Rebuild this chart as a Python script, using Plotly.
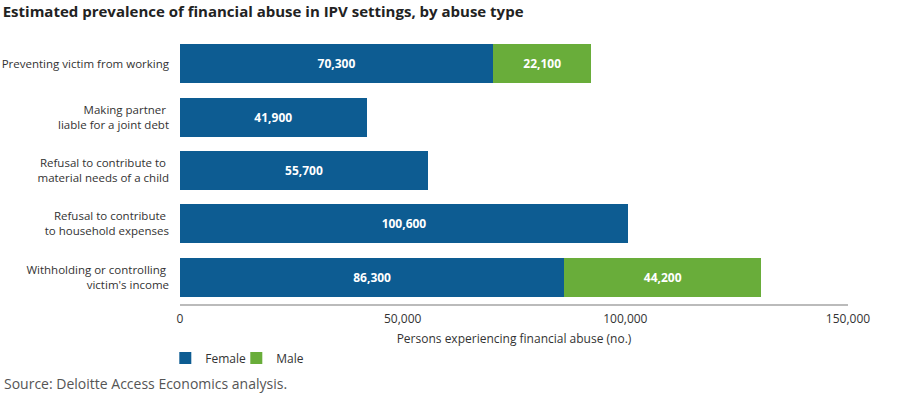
import plotly.graph_objects as go

categories = [
    "Preventing victim from working",
    "Making partner <br>liable for a joint debt",
    "Refusal to contribute to <br>material needs of a child",
    "Refusal to contribute <br>to household expenses",
    "Withholding or controlling <br>victim's income",
]
female = [70300, 41900, 55700, 100600, 86300]
male = [22100, None, None, None, 44200]
x_ticks = [0, 50000, 100000, 150000]
x_tick_labels = ["0", "50,000", "100,000", "150,000"]

FEMALE_C = "#0D5C92"
MALE_C = "#69AD3A"
FONT = "Open Sans"

fig = go.Figure()
fig.add_trace(go.Bar(
    y=categories, x=female, orientation="h", name="Female",
    marker=dict(color=FEMALE_C, line=dict(width=0)),
    texttemplate="%{x:,}", textposition="inside", insidetextanchor="middle",
    textfont=dict(color="white", size=12, family=FONT, weight="bold"),
))
fig.add_trace(go.Bar(
    y=categories, x=male, orientation="h", name="Male",
    marker=dict(color=MALE_C, line=dict(width=0)),
    texttemplate="%{x:,}", textposition="inside", insidetextanchor="middle",
    textfont=dict(color="white", size=12, family=FONT, weight="bold"),
))

fig.update_layout(
    width=900, height=399,
    barmode="stack", bargap=0.27,
    plot_bgcolor="white", paper_bgcolor="white",
    font=dict(family=FONT, size=12, color="#333333"),
    margin=dict(l=180, r=52, t=37, b=95, autoexpand=False),
    title=dict(
        text="<b>Estimated prevalence of financial abuse in IPV settings, by abuse type</b>",
        x=0.003, xanchor="left", y=0.97, yanchor="middle",
        font=dict(family=FONT, size=15, color="#222222"),
    ),
    xaxis=dict(
        range=[0, 150000], tickvals=x_ticks, ticktext=x_tick_labels,
        showgrid=False, zeroline=False, showline=True, linecolor="#bbbbbb", linewidth=2,
        ticks="", ticklabelstandoff=3, automargin=False,
        title=dict(text="Persons experiencing financial abuse (no.)", font=dict(size=12), standoff=8),
        tickfont=dict(size=12, color="#333333"),
    ),
    yaxis=dict(
        autorange="reversed", showgrid=False, zeroline=False, showline=False,
        ticks="", ticklabelstandoff=10, automargin=False,
        tickfont=dict(size=11.5, color="#333333"),
    ),
    legend=dict(
        orientation="h", x=-0.022, xanchor="left", y=-0.148, yanchor="top",
        font=dict(size=12, color="#333333"), itemwidth=30, traceorder="normal",
        entrywidth=26,
    ),
    annotations=[dict(
        text="Source: Deloitte Access Economics analysis.",
        xref="paper", yref="paper", x=-178/668, xanchor="left",
        y=-0.255, yanchor="top", showarrow=False,
        font=dict(size=14, color="#555555"),
    )],
)

fig.write_html("out.html", config={"displayModeBar": False},
               post_script="document.body.style.margin='0';")
